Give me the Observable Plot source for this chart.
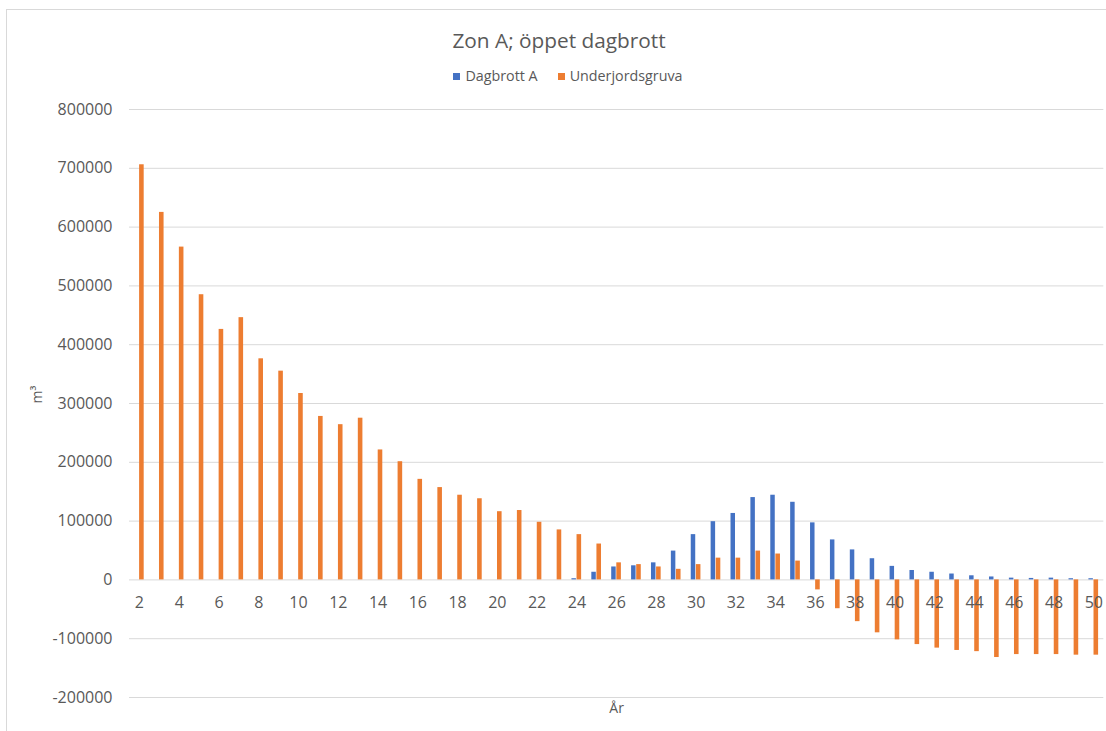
<!DOCTYPE html>
<html>
<head>
<meta charset="utf-8">
<script src="https://cdn.jsdelivr.net/npm/d3@7"></script>
<script src="https://cdn.jsdelivr.net/npm/@observablehq/plot@0.6"></script>
<style>
  body { margin: 0; background: #fff; font-family: "Open Sans", sans-serif; }
  #wrap { position: relative; width: 1106px; height: 731px; overflow: hidden; }
  #frame { position: absolute; left: 6px; top: 9px; width: 1200px; height: 800px;
           border-top: 1px solid #d9d9d9; border-left: 1px solid #d9d9d9; pointer-events: none; }
  #title { margin: 0; padding-top: 30px; padding-left: 12px; height: 20px; line-height: 20px; text-align: center;
           font-size: 20.8px; color: #595959; }
  #legend { margin-top: 16px; padding-left: 30px; height: 20px; line-height: 20px; display: flex; justify-content: center;
            gap: 20px; font-size: 14.3px; color: #595959; }
  #legend span.item { display: inline-flex; align-items: center; gap: 5px; }
  #legend i { display: inline-block; width: 7px; height: 7px; }
  #chart svg { display: block; }
</style>
</head>
<body>
<div id="wrap">
  <div id="frame"></div>
  <div id="title">Zon A; öppet dagbrott</div>
  <div id="legend"></div>
  <div id="chart"></div>
</div>
<script>
const years = [2,3,4,5,6,7,8,9,10,11,12,13,14,15,16,17,18,19,20,21,22,23,24,25,26,27,28,29,30,31,32,33,34,35,36,37,38,39,40,41,42,43,44,45,46,47,48,49,50];
const dagbrottA = [0,0,0,0,0,0,0,0,0,0,0,0,0,0,0,0,0,0,0,0,0,0,2000,13000,22000,24000,29000,49000,77000,99000,113000,140000,144000,132000,97000,68000,51000,36000,23000,16000,13000,10000,7000,5000,3000,2500,3000,2000,2000];
const underjordsgruva = [706000,625000,566000,485000,426000,446000,376000,355000,317000,278000,264000,275000,221000,201000,171000,157000,144000,138000,116000,118000,98000,85000,77000,61000,29000,26000,22000,18000,26000,37000,37000,49000,44000,32000,-17000,-49000,-71000,-90000,-102000,-110000,-116000,-120000,-122000,-132000,-127000,-127000,-127000,-128000,-128000];
const seriesNames = ["Dagbrott A", "Underjordsgruva"];
const seriesColors = ["#4472C4", "#ED7D31"];
const yTicks = [-200000,-100000,0,100000,200000,300000,400000,500000,600000,700000,800000];
const xTickLabels = [2,4,6,8,10,12,14,16,18,20,22,24,26,28,30,32,34,36,38,40,42,44,46,48,50];
const yLabel = "m³";
const xLabel = "År";

const blueData = years.map((yr, i) => ({year: yr, value: dagbrottA[i]}));
const orangeData = years.map((yr, i) => ({year: yr, value: underjordsgruva[i]}));

// legend
const legend = document.getElementById("legend");
seriesNames.forEach((name, i) => {
  const s = document.createElement("span");
  s.className = "item";
  s.innerHTML = `<i style="background:${seriesColors[i]}"></i>${name}`;
  legend.appendChild(s);
});

const chart = Plot.plot({
  width: 1106,
  height: 645,
  marginLeft: 129,
  marginRight: 2.7,
  marginTop: 23,
  marginBottom: 34,
  style: { fontFamily: "Open Sans, sans-serif", fontSize: "16px", color: "#595959", background: "#fff" },
  x: { type: "band", domain: years, padding: 0, axis: null },
  y: { domain: [-200000, 800000], axis: null },
  marks: [
    Plot.ruleY(yTicks, { stroke: "#d9d9d9", strokeWidth: 1 }),
    Plot.axisY(yTicks, { tickSize: 0, tickPadding: 17, tickFormat: d => String(d), label: null, fill: "#595959", fontSize: 16 }),
    Plot.barY(blueData, { x: "year", y: "value", fill: seriesColors[0], insetLeft: 5, insetRight: 10.4 }),
    Plot.barY(orangeData, { x: "year", y: "value", fill: seriesColors[1], insetLeft: 10.1, insetRight: 5.2 }),
    Plot.text(xTickLabels, { x: d => d, y: 0, text: d => String(d), dy: 23, fill: "#595959", fontSize: 16 }),
    Plot.text([yLabel], { frameAnchor: "left", dx: -92, rotate: -90, fill: "#595959", fontSize: 14 }),
    Plot.text([xLabel], { frameAnchor: "bottom", dy: 15, fill: "#595959", fontSize: 14 })
  ]
});
document.getElementById("chart").appendChild(chart);
</script>
</body>
</html>
